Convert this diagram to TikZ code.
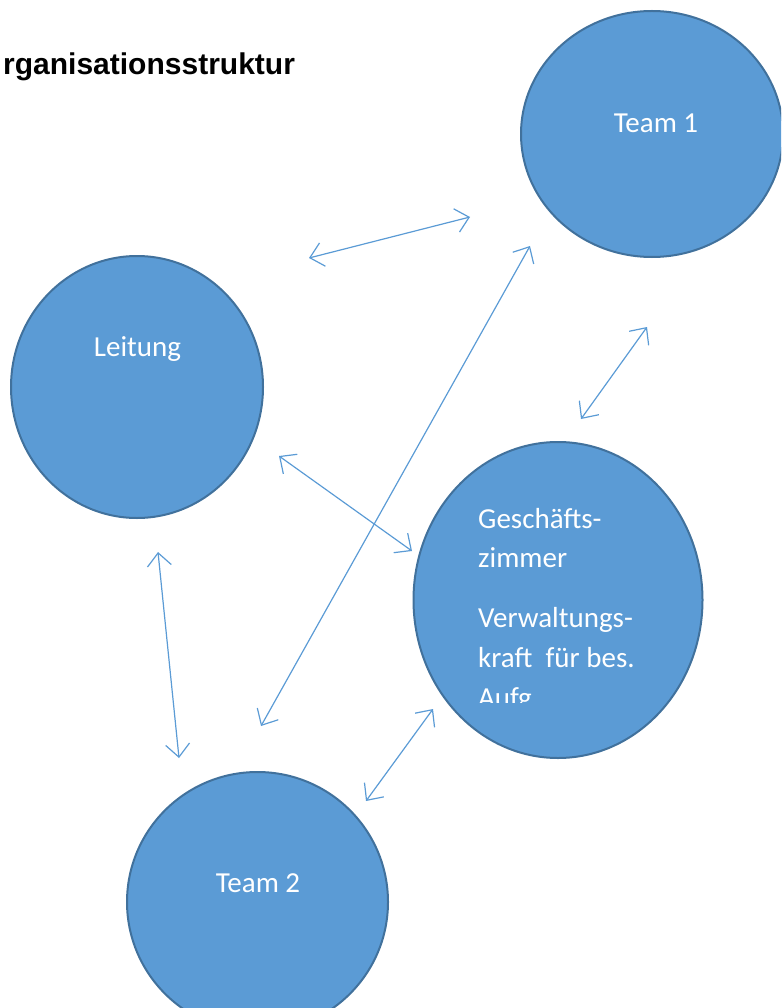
\documentclass[tikz,border=0pt]{standalone}
\usepackage{fontspec}
\setmainfont{Carlito}
\newfontfamily\titlefont{Liberation Sans}
\usetikzlibrary{shapes.geometric,arrows.meta}
\definecolor{bubblefill}{HTML}{5B9BD5}
\definecolor{bubbleline}{HTML}{41719C}
\definecolor{arrowblue}{HTML}{5B9BD5}
\tikzset{
  bubble/.style={ellipse, draw=bubbleline, line width=2pt, fill=bubblefill, inner sep=0pt},
  bubbletext/.style={text=white, font=\fontsize{29}{35}\selectfont, inner sep=0pt},
  link/.style={draw=arrowblue, line width=1.2pt, {Straight Barb[length=13pt,width=24pt]}-{Straight Barb[length=13pt,width=24pt]}}
}
\begin{document}
\begin{tikzpicture}[x=1pt,y=-1pt]
\useasboundingbox (0,0) rectangle (781,1008);
\begin{scope}
\clip (0,0) rectangle (781,1008);
% ellipses
\node[bubble, minimum width=262pt, minimum height=246pt] (team1) at (652,134) {};
\node[bubble, minimum width=252pt, minimum height=262pt] (leitung) at (137,387) {};
\node[bubble, minimum width=289pt, minimum height=316pt] (gz) at (558,600) {};
\node[bubble, minimum width=261pt, minimum height=260pt] (team2) at (257.5,902) {};
\end{scope}

% title
\node[anchor=base west, inner sep=0pt, font=\titlefont\bfseries\fontsize{30}{36}\selectfont] (title) at (3,75) {rganisationsstruktur};

% labels
\node[bubbletext, anchor=base] (t1) at (656,133) {Team 1};
\node[bubbletext, anchor=base] (tl) at (137.5,356) {Leitung};
\node[bubbletext, anchor=base] (t2) at (258,892) {Team 2};
\begin{scope}
\clip (400,440) rectangle (720,702);
\node[bubbletext, anchor=base west] (g1) at (478,528) {Geschäfts-};
\node[bubbletext, anchor=base west] (g2) at (478,567) {zimmer};
\node[bubbletext, anchor=base west] (g3) at (478,627) {Verwaltungs-};
\node[bubbletext, anchor=base west] (g4) at (478,667) {kraft\ \ für bes.};
\node[bubbletext, anchor=base west] (g5) at (478,707) {Aufg.};
\end{scope}

% arrow end points
\coordinate (a1s) at (309,258);
\coordinate (a1e) at (470,217);
\coordinate (a2s) at (581,419);
\coordinate (a2e) at (647,327);
\coordinate (a3s) at (279,456);
\coordinate (a3e) at (412,551);
\coordinate (a4s) at (158,552);
\coordinate (a4e) at (179,758);
\coordinate (a5s) at (261,726);
\coordinate (a5e) at (530,246);
\coordinate (a6s) at (366,801);
\coordinate (a6e) at (433,709);

\draw[link] (a1s) -- (a1e);
\draw[link] (a2s) -- (a2e);
\draw[link] (a3s) -- (a3e);
\draw[link] (a4s) -- (a4e);
\draw[link] (a5s) -- (a5e);
\draw[link] (a6s) -- (a6e);
\end{tikzpicture}
\end{document}
